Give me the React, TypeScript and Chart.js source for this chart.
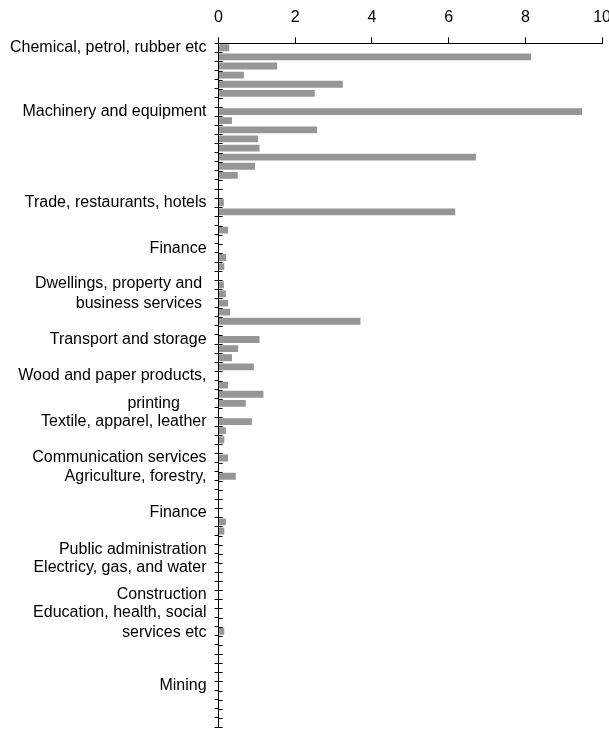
import React, { useEffect, useRef } from "react";
import { Chart, registerables } from "chart.js";

Chart.register(...registerables);

const categories: (string | string[])[] = [
  "Chemical, petrol, rubber etc", "", "", "", "", "", "", "Machinery and equipment", "", "",
  "", "", "", "", "", "", "", "Trade, restaurants, hotels", "", "",
  "", "", "Finance", "", "", "", "", ["Dwellings, property and ", "business services "], "", "",
  "", "", "Transport and storage", "", "", "", "Wood and paper products,", "", "", "printing      ",
  "", "Textile, apparel, leather", "", "", "", "Communication services", "", "Agriculture, forestry,", "", "",
  "", "Finance", "", "", "", "Public administration", "", "Electricy, gas, and water", "", "",
  "Construction", "", "", ["Education, health, social", "services etc"], "", "", "", "", "", "",
  "Mining", "", "", "", "",
];

const values: (number | null)[] = [
  0.28, 8.15, 1.53, 0.66, 3.24, 2.51, null, 9.48, 0.35, 2.57,
  1.03, 1.07, 6.71, 0.95, 0.5, null, null, 0.14, 6.17, null,
  0.25, null, null, 0.2, 0.15, null, 0.14, 0.19, 0.25, 0.3,
  3.7, null, 1.07, 0.51, 0.35, 0.92, null, 0.25, 1.17, 0.71,
  null, 0.87, 0.19, 0.15, null, 0.25, null, 0.45, null, null,
  null, null, 0.19, 0.15, null, null, null, null, null, null,
  null, null, null, null, 0.15, null, null, null, null, null,
  null, null, null, null, null,
];

const xMin = 0;
const xMax = 10;
const xStep = 2;

const FONT = "'Liberation Sans', Arial, sans-serif";

const innerTicks = {
  id: "innerTicks",
  afterDraw(chart: any) {
    const y = chart.scales.y;
    const x0 = chart.chartArea.left;
    const ctx = chart.ctx;
    const n = categories.length;
    const half = (y.getPixelForValue(1) - y.getPixelForValue(0)) / 2;
    ctx.save();
    ctx.strokeStyle = "#000";
    ctx.lineWidth = 1;
    ctx.beginPath();
    for (let i = 0; i <= n; i++) {
      const py = Math.round(y.getPixelForValue(i) - half) + 0.5;
      ctx.moveTo(x0, py);
      ctx.lineTo(x0 + 4, py);
    }
    ctx.stroke();
    ctx.restore();
  },
};

export default function App() {
  const ref = useRef<HTMLCanvasElement>(null);
  useEffect(() => {
    if (!ref.current) return;
    const chart = new Chart(ref.current, {
      type: "bar",
      data: {
        labels: categories as any,
        datasets: [
          {
            data: values as any,
            backgroundColor: "#969696",
            borderWidth: 0,
            categoryPercentage: 1,
            barPercentage: 0.75,
          },
        ],
      },
      options: {
        indexAxis: "y",
        animation: false,
        responsive: true,
        maintainAspectRatio: false,
        layout: { padding: { top: 2, left: 2, right: 0, bottom: 0 } },
        plugins: { legend: { display: false }, tooltip: { enabled: false } },
        scales: {
          x: {
            position: "top",
            min: xMin,
            max: xMax,
            ticks: { stepSize: xStep, color: "#000", font: { family: FONT, size: 16 }, padding: 10 },
            grid: { drawOnChartArea: false, tickLength: 6, color: "#000" },
            border: { display: true, color: "#000" },
          },
          y: {
            type: "category",
            offset: true,
            ticks: {
              autoSkip: false,
              color: "#000",
              font: { family: FONT, size: 16, lineHeight: 1.25 },
              padding: 8,
            },
            grid: { drawOnChartArea: false, tickLength: 4, offset: true, color: "#000" },
            border: { display: true, color: "#000" },
          },
        },
      },
      plugins: [innerTicks],
    });
    return () => chart.destroy();
  }, []);
  return (
    <div style={{ position: "fixed", left: 0, top: 0, width: 609, height: 733, overflow: "hidden", background: "#fff" }}>
      <div style={{ position: "relative", top: -4, width: 621, height: 749 }}>
        <canvas ref={ref} />
      </div>
    </div>
  );
}
